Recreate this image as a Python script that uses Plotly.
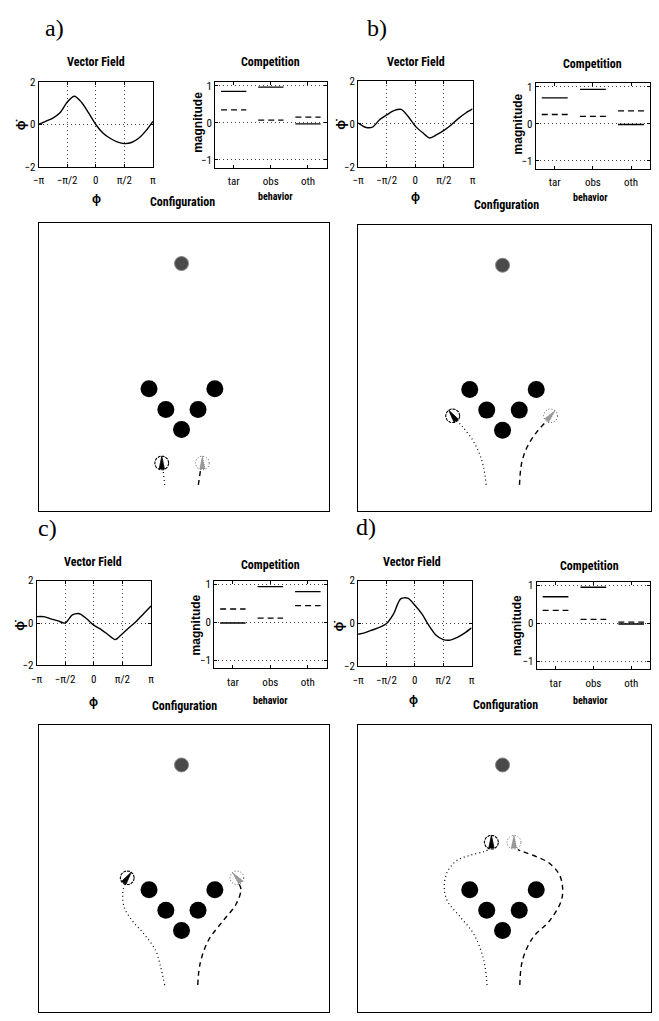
import plotly.graph_objects as go
import numpy as np

W, H = 659, 1021
PI = np.pi

# ---------------- data ----------------
phi_ticks = [-PI, -PI / 2, 0, PI / 2, PI]
phi_ticktext = ['−π', '−π/2', '0', 'π/2', 'π']
phi_samples = [k * PI / 8 for k in range(-8, 9)]

vf_a = [0.0, 0.15, 0.3, 0.55, 1.05, 1.33, 1.05, 0.55, 0.0, -0.4, -0.65, -0.82, -0.9, -0.85, -0.65, -0.3, 0.15]
vf_b = [0.05, -0.15, -0.15, 0.2, 0.42, 0.62, 0.68, 0.35, -0.1, -0.4, -0.65, -0.5, -0.3, -0.05, 0.25, 0.5, 0.7]
vf_c = [0.3, 0.3, 0.2, 0.1, 0.0, 0.38, 0.44, 0.2, -0.1, -0.3, -0.55, -0.78, -0.5, -0.2, 0.1, 0.45, 0.8]
vf_d = [-0.5, -0.42, -0.3, -0.18, 0.0, 0.45, 1.15, 1.18, 0.85, 0.45, -0.1, -0.55, -0.75, -0.77, -0.65, -0.45, -0.2]

behaviors = ['tar', 'obs', 'oth']
comp_solid_a = [0.85, 0.96, -0.03]
comp_dash_a = [0.35, 0.07, 0.15]
comp_solid_b = [0.70, 0.93, -0.02]
comp_dash_b = [0.25, 0.20, 0.35]
comp_solid_c = [-0.02, 0.94, 0.81]
comp_dash_c = [0.35, 0.11, 0.44]
comp_solid_d = [0.70, 0.95, -0.02]
comp_dash_d = [0.34, 0.10, 0.03]

target_xy = [4.93, 8.6]
obstacles_x = [3.81, 6.08, 4.39, 5.50, 4.93]
obstacles_y = [4.26, 4.26, 3.54, 3.54, 2.84]

robot1_a = [4.25, 1.68]
robot2_a = [5.65, 1.68]
path1_a_x = [4.35, 4.30]
path1_a_y = [0.92, 1.40]
path2_a_x = [5.51, 5.58]
path2_a_y = [0.92, 1.40]

robot1_b = [3.23, 3.34]
robot2_b = [6.57, 3.34]
path1_b_x = [4.37, 4.28, 4.14, 3.92, 3.58, 3.36]
path1_b_y = [0.93, 1.56, 2.02, 2.48, 2.94, 3.17]
path2_b_x = [5.51, 5.58, 5.77, 6.05, 6.39, 6.50]
path2_b_y = [0.93, 1.68, 2.25, 2.71, 3.11, 3.20]

robot1_c = [3.06, 4.67]
robot2_c = [6.84, 4.67]
path1_c_x = [4.35, 4.21, 4.04, 3.64, 3.24, 2.96, 2.90, 2.96]
path1_c_y = [0.94, 1.57, 2.14, 2.71, 3.17, 3.63, 4.09, 4.43]
path2_c_x = [5.49, 5.57, 5.85, 6.36, 6.81, 6.98, 6.92]
path2_c_y = [0.94, 1.68, 2.48, 3.17, 3.75, 4.26, 4.45]

robot1_d = [4.55, 5.91]
robot2_d = [5.32, 5.91]
path1_d_x = [4.40, 4.29, 3.95, 3.50, 3.05, 2.94, 3.05, 3.39, 3.84, 4.29, 4.45]
path1_d_y = [0.94, 1.80, 2.71, 3.29, 3.86, 4.32, 4.89, 5.29, 5.46, 5.58, 5.65]
path2_d_x = [5.52, 5.61, 5.97, 6.53, 6.93, 6.98, 6.87, 6.53, 6.08, 5.63, 5.45]
path2_d_y = [0.94, 1.80, 2.60, 3.17, 3.86, 4.32, 4.78, 5.18, 5.41, 5.58, 5.65]

# robot headings, degrees clockwise from "up"
heading_a = [0, 0]
heading_b = [-35, 40]
heading_c = [35, -40]
heading_d = [0, 0]

panel_labels = ['a)', 'b)', 'c)', 'd)']

# ---------------- layout geometry (pixels) ----------------
vf_box = [(33, 149, 77, 163), (357, 473, 76, 163), (31, 147, 582, 668), (357, 472, 582, 669)]
comp_box = [(212, 325, 77, 164), (537, 653, 78, 165), (211, 325, 582, 671), (538, 653, 583, 672)]
cfg_box = [(33, 327, 220, 512), (357, 654, 222, 512), (33, 327, 728, 1019), (357, 654, 728, 1019)]

letter_pos = [(49, 22), (376, 22), (42, 529), (365, 528)]
vf_title_pos = [(91, 57), (416, 57), (88, 563), (412, 563)]
comp_title_pos = [(268, 57), (595, 59), (268, 566), (592, 567)]
cfg_title_pos = [(179, 199), (507, 202), (181, 709), (506, 708)]
phi_label_pos = [(92, 195), (415, 193), (89, 705), (413, 703)]
phidot_label_pos = [(15, 120), (339, 120), (13, 627), (337, 628)]
mag_label_pos = [(195, 118), (520, 119), (193, 627), (518, 627)]
beh_label_pos = [(273, 193), (593, 194), (268, 703), (593, 703)]

SANS = 'Liberation Sans Narrow, Roboto Condensed, Liberation Sans, Arial'
SERIF = 'Liberation Serif, DejaVu Serif, serif'
ROBOT_R = 0.24  # robot radius in configuration units (style)


def px_x(l, r):
    return [l / W, r / W]


def px_y(t, b):
    return [1 - b / H, 1 - t / H]


fig = go.Figure()
layout = dict(width=W, height=H, margin=dict(l=0, r=0, t=0, b=0),
              paper_bgcolor='white', plot_bgcolor='white', showlegend=False)
annotations = []

vf_all = [vf_a, vf_b, vf_c, vf_d]
solid_all = [comp_solid_a, comp_solid_b, comp_solid_c, comp_solid_d]
dash_all = [comp_dash_a, comp_dash_b, comp_dash_c, comp_dash_d]
robot1_all = [robot1_a, robot1_b, robot1_c, robot1_d]
robot2_all = [robot2_a, robot2_b, robot2_c, robot2_d]
path1_all = [(path1_a_x, path1_a_y), (path1_b_x, path1_b_y), (path1_c_x, path1_c_y), (path1_d_x, path1_d_y)]
path2_all = [(path2_a_x, path2_a_y), (path2_b_x, path2_b_y), (path2_c_x, path2_c_y), (path2_d_x, path2_d_y)]
heading_all = [heading_a, heading_b, heading_c, heading_d]

axis_common = dict(showline=True, linecolor='black', linewidth=1, mirror='ticks',
                   ticks='inside', ticklen=3, tickcolor='black', zeroline=False,
                   tickfont=dict(family=SANS, size=11, color='black'),
                   gridcolor='#444', griddash='1px,3px', gridwidth=1)


def seg_xy(vals, half=0.34):
    xs, ys = [], []
    for k, v in enumerate(vals):
        c = k + 1
        xs += [c - half, c + half, None]
        ys += [v, v, None]
    return xs, ys


def circle_xy(center, r):
    t = np.linspace(0, 2 * PI, 40)
    return list(center[0] + r * np.cos(t)), list(center[1] + r * np.sin(t))


def wedge_xy(center, heading_deg, r):
    a = np.deg2rad(heading_deg)
    ux, uy = np.sin(a), np.cos(a)      # heading direction
    vx, vy = np.cos(a), -np.sin(a)     # perpendicular
    tip = (center[0] + r * ux, center[1] + r * uy)
    base_c = (center[0] - 0.85 * r * ux, center[1] - 0.85 * r * uy)
    w = 0.38 * r
    b1 = (base_c[0] + w * vx, base_c[1] + w * vy)
    b2 = (base_c[0] - w * vx, base_c[1] - w * vy)
    return [tip[0], b1[0], b2[0], tip[0]], [tip[1], b1[1], b2[1], tip[1]]


def ann(x, y, text, size=12, family=SANS, bold=True, angle=0):
    t = '<b>%s</b>' % text if bold else text
    annotations.append(dict(x=x / W, y=1 - y / H, xref='paper', yref='paper', text=t,
                            showarrow=False, xanchor='center', yanchor='middle', textangle=angle,
                            font=dict(family=family, size=size, color='black')))


for i in range(4):
    n1, n2, n3 = 3 * i + 1, 3 * i + 2, 3 * i + 3
    s1 = '' if n1 == 1 else str(n1)
    # --- vector field ---
    l, r, t, b = vf_box[i]
    layout['xaxis' + s1] = dict(axis_common, domain=px_x(l, r), anchor='y' + s1, range=[-PI, PI],
                                tickvals=phi_ticks, ticktext=phi_ticktext, showgrid=True,
                                ticklabelstandoff=3)
    layout['yaxis' + s1] = dict(axis_common, domain=px_y(t, b), anchor='x' + s1, range=[-2, 2],
                                tickvals=[-2, 0, 2], showgrid=True)
    fig.add_trace(go.Scatter(x=phi_samples, y=vf_all[i], mode='lines', xaxis='x' + s1, yaxis='y' + s1,
                             line=dict(color='black', width=1.4, shape='spline', smoothing=0.8)))
    # --- competition ---
    l, r, t, b = comp_box[i]
    layout['xaxis%d' % n2] = dict(axis_common, domain=px_x(l, r), anchor='y%d' % n2, range=[0.5, 3.5],
                                  tickvals=[1, 2, 3], ticktext=behaviors, showgrid=False,
                                  ticklabelstandoff=3)
    layout['yaxis%d' % n2] = dict(axis_common, domain=px_y(t, b), anchor='x%d' % n2, range=[-1.22, 1.1],
                                  tickvals=[-1, 0, 1], showgrid=True)
    xs, ys = seg_xy(solid_all[i])
    fig.add_trace(go.Scatter(x=xs, y=ys, mode='lines', xaxis='x%d' % n2, yaxis='y%d' % n2,
                             line=dict(color='black', width=1.3)))
    xs, ys = seg_xy(dash_all[i])
    fig.add_trace(go.Scatter(x=xs, y=ys, mode='lines', xaxis='x%d' % n2, yaxis='y%d' % n2,
                             line=dict(color='black', width=1.3, dash='6px,4px')))
    # --- configuration ---
    l, r, t, b = cfg_box[i]
    layout['xaxis%d' % n3] = dict(domain=px_x(l, r), anchor='y%d' % n3, range=[0, 10], showline=True,
                                  linecolor='black', linewidth=1.2, mirror=True, ticks='', showticklabels=False,
                                  showgrid=False, zeroline=False)
    layout['yaxis%d' % n3] = dict(domain=px_y(t, b), anchor='x%d' % n3, range=[0, 10], showline=True,
                                  linecolor='black', linewidth=1.2, mirror=True, ticks='', showticklabels=False,
                                  showgrid=False, zeroline=False)
    ax = dict(xaxis='x%d' % n3, yaxis='y%d' % n3)
    px, py = path1_all[i]
    fig.add_trace(go.Scatter(x=px, y=py, mode='lines', line=dict(color='black', width=1.2, dash='1px,3px'),
                             line_shape='spline', **ax))
    px, py = path2_all[i]
    fig.add_trace(go.Scatter(x=px, y=py, mode='lines', line=dict(color='black', width=1.4, dash='5px,4px'),
                             line_shape='spline', **ax))
    fig.add_trace(go.Scatter(x=obstacles_x, y=obstacles_y, mode='markers',
                             marker=dict(symbol='circle', size=17, color='black', line=dict(width=0)), **ax))
    fig.add_trace(go.Scatter(x=[target_xy[0]], y=[target_xy[1]], mode='markers',
                             marker=dict(symbol='circle', size=14, color='#4a4a4a',
                                         line=dict(width=1, color='#888')), **ax))
    r1, r2 = robot1_all[i], robot2_all[i]
    h1, h2 = heading_all[i]
    # robot 1 (black)
    cx, cy = circle_xy(r1, ROBOT_R)
    fig.add_trace(go.Scatter(x=cx, y=cy, mode='lines', line=dict(color='black', width=1.1, dash='3px,1px'),
                             fill='toself', fillcolor='white', **ax))
    wx, wy = wedge_xy(r1, h1, ROBOT_R)
    fig.add_trace(go.Scatter(x=wx, y=wy, mode='lines', line=dict(color='black', width=0.8),
                             fill='toself', fillcolor='black', **ax))
    # robot 2 (grey, dotted)
    cx, cy = circle_xy(r2, ROBOT_R)
    fig.add_trace(go.Scatter(x=cx, y=cy, mode='lines', line=dict(color='#666', width=1, dash='1px,2px'),
                             fill='toself', fillcolor='white', **ax))
    wx, wy = wedge_xy(r2, h2, ROBOT_R)
    fig.add_trace(go.Scatter(x=wx, y=wy, mode='lines', line=dict(color='#777', width=0.8, dash='1px,1px'),
                             fill='toself', fillcolor='#9a9a9a', **ax))

    # --- text ---
    ann(*letter_pos[i], panel_labels[i], size=24, family=SERIF, bold=False)
    ann(*vf_title_pos[i], 'Vector Field', size=12)
    ann(*comp_title_pos[i], 'Competition', size=12)
    ann(*cfg_title_pos[i], 'Configuration', size=12)
    ann(*phi_label_pos[i], 'ϕ', size=12)
    ann(*phidot_label_pos[i], 'ϕ̇', size=13, angle=-90)
    ann(*mag_label_pos[i], 'magnitude', size=12, family='Liberation Sans, Arial', angle=-90)
    ann(*beh_label_pos[i], 'behavior', size=10)

layout['annotations'] = annotations
fig.update_layout(**layout)
fig.write_html('out.html', config={'displayModeBar': False},
               post_script="document.body.style.margin='0';document.body.style.overflow='hidden';")
